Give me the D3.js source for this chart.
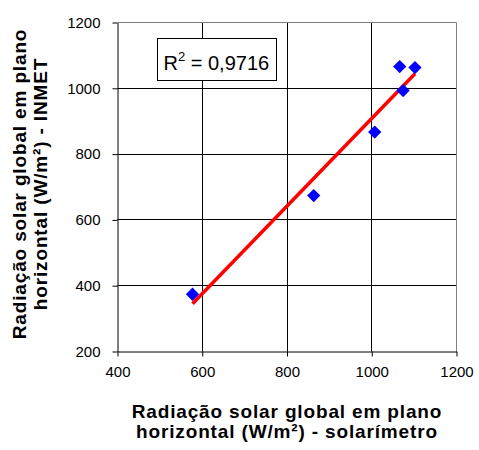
<!DOCTYPE html>
<html>
<head>
<meta charset="utf-8">
<script src="https://cdn.jsdelivr.net/npm/d3@7"></script>
<style>
  body { margin: 0; background: #fff; }
  svg { display: block; font-family: Arial, "Liberation Sans", sans-serif; }
</style>
</head>
<body>
<svg width="479" height="450"></svg>
<script>
// dados
var solarimetro = [577, 863, 1007, 1066, 1074, 1102];
var inmet = [374, 674, 867, 1066, 993, 1063];
var xTicks = [400, 600, 800, 1000, 1200];
var yTicks = [200, 400, 600, 800, 1000, 1200];
var r2Label = "0,9716";

var svg = d3.select("svg"),
    margin = {top: 22.5, right: 22.5, bottom: 98.5, left: 117.5},
    width = svg.attr("width") - margin.left - margin.right,
    height = svg.attr("height") - margin.top - margin.bottom,
    g = svg.append("g").attr("transform", "translate(" + margin.left + "," + margin.top + ")");

var x = d3.scaleLinear().domain([400, 1200]).range([0, width]),
    y = d3.scaleLinear().domain([200, 1200]).range([height, 0]);

var data = solarimetro.map(function(d, i) { return {x: d, y: inmet[i]}; });

// grade
g.selectAll(".gx").data(xTicks.slice(1, -1)).enter().append("line")
  .attr("x1", function(d) { return Math.round(x(d)); }).attr("x2", function(d) { return Math.round(x(d)); })
  .attr("y1", 0).attr("y2", height)
  .attr("stroke", "#000").attr("stroke-width", 1);
g.selectAll(".gy").data(yTicks.slice(1, -1)).enter().append("line")
  .attr("y1", function(d) { return Math.round(y(d)); }).attr("y2", function(d) { return Math.round(y(d)); })
  .attr("x1", 0).attr("x2", width)
  .attr("stroke", "#000").attr("stroke-width", 1);

// borda superior e direita
g.append("path")
  .attr("d", "M0," + y(1200) + "H" + x(1200) + "V" + y(200))
  .attr("fill", "none").attr("stroke", "#808080");

// eixos
var xAxis = g.append("g")
  .attr("transform", "translate(0," + height + ")")
  .call(d3.axisBottom(x).tickValues(xTicks).tickFormat(d3.format("d"))
    .tickSize(5).tickPadding(10).tickSizeOuter(0));
var yAxis = g.append("g")
  .call(d3.axisLeft(y).tickValues(yTicks).tickFormat(d3.format("d"))
    .tickSize(5).tickPadding(12).tickSizeOuter(0));
[xAxis, yAxis].forEach(function(a) {
  a.select(".domain").attr("stroke", "#000");
  a.selectAll("line").attr("stroke", "#000");
  a.selectAll("text").attr("font-family", "Arial, 'Liberation Sans', sans-serif")
    .attr("font-size", 15).attr("fill", "#000");
});

// linha de tendência (mínimos quadrados)
var mx = d3.mean(solarimetro), my = d3.mean(inmet);
var sxy = d3.sum(data, function(d) { return (d.x - mx) * (d.y - my); });
var sxx = d3.sum(data, function(d) { return (d.x - mx) * (d.x - mx); });
var b = sxy / sxx, a0 = my - b * mx;
var ext = d3.extent(solarimetro);
g.append("line")
  .attr("x1", x(ext[0])).attr("y1", y(a0 + b * ext[0]))
  .attr("x2", x(ext[1])).attr("y2", y(a0 + b * ext[1]))
  .attr("stroke", "#ff0000").attr("stroke-width", 3.5);

// pontos
g.selectAll(".pt").data(data).enter().append("path")
  .attr("d", d3.symbol().type(d3.symbolSquare).size(88))
  .attr("transform", function(d) { return "translate(" + x(d.x) + "," + y(d.y) + ") rotate(45)"; })
  .attr("fill", "#0000ff");

// caixa R²
var box = svg.append("g").attr("transform", "translate(157.5,38.5)");
box.append("rect").attr("width", 119).attr("height", 42)
  .attr("fill", "#fff").attr("stroke", "#000");
var t = box.append("text").attr("x", 6).attr("y", 31).attr("font-size", 20).attr("fill", "#000");
t.append("tspan").text("R");
t.append("tspan").attr("font-size", 13).attr("dy", -9).text("2");
t.append("tspan").attr("dy", 9).text(" = " + r2Label);

// títulos
var xt = svg.append("text").attr("text-anchor", "middle").attr("font-weight", "bold")
  .attr("font-size", 19).attr("letter-spacing", 0.85).attr("fill", "#000");
xt.append("tspan").attr("x", 287).attr("y", 418).text("Radiação solar global em plano");
xt.append("tspan").attr("x", 287).attr("y", 438).text("horizontal (W/m²) - solarímetro");

var yt = svg.append("text").attr("text-anchor", "middle").attr("font-weight", "bold")
  .attr("font-size", 19).attr("letter-spacing", 0.85).attr("fill", "#000")
  .attr("transform", "translate(0,184) rotate(-90)");
yt.append("tspan").attr("x", 0).attr("y", 26).text("Radiação solar global em plano");
yt.append("tspan").attr("x", 0).attr("y", 47).text("horizontal (W/m²) - INMET");
</script>
</body>
</html>
